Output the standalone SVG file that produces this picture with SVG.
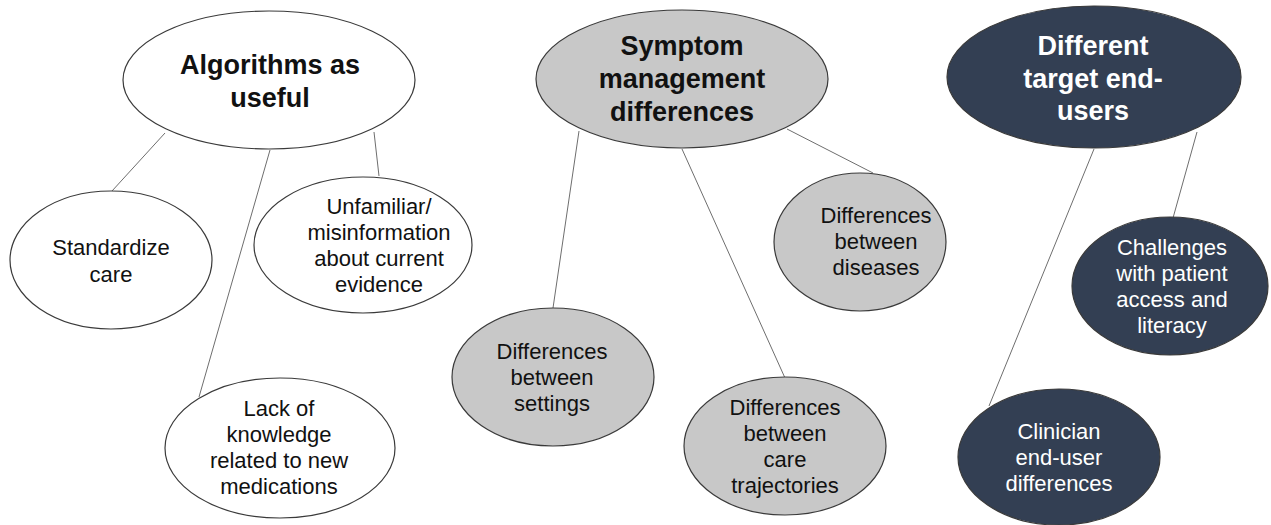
<svg xmlns="http://www.w3.org/2000/svg" width="1271" height="525" viewBox="0 0 1271 525">
<style>
.bg{fill:#ffffff}
.node{stroke:#3a3a3a;stroke-width:1.2}
.white{fill:#ffffff}
.gray{fill:#c8c8c8}
.dark{fill:#333f53}
.conn line{stroke:#6e6e6e;stroke-width:1}
text{font-family:"Liberation Sans",Arial,sans-serif;text-anchor:middle}
.title{font-size:27px;font-weight:bold}
.label{font-size:22px}
.tdark{fill:#111111}
.tlight{fill:#ffffff}
</style>
<rect class="bg" x="0" y="0" width="1271" height="525"/>
<g id="connectors" class="conn">
<line x1="165" y1="133" x2="112" y2="191"/>
<line x1="270" y1="150" x2="199" y2="397"/>
<line x1="374" y1="132" x2="379" y2="176"/>
<line x1="579" y1="131" x2="553" y2="308"/>
<line x1="682" y1="149" x2="785" y2="378"/>
<line x1="787" y1="129" x2="873" y2="173"/>
<line x1="1094" y1="149" x2="989" y2="406"/>
<line x1="1197" y1="132" x2="1173" y2="218"/>
</g>
<g id="algorithms">
<ellipse class="node white" cx="269" cy="80" rx="146" ry="69"/>
<text class="title tdark" x="270" y="74">Algorithms as</text>
<text class="title tdark" x="270" y="107">useful</text>
</g>
<g id="standardize">
<ellipse class="node white" cx="111" cy="260" rx="101" ry="69"/>
<text class="label tdark" x="111" y="255">Standardize</text>
<text class="label tdark" x="111" y="282">care</text>
</g>
<g id="unfamiliar">
<ellipse class="node white" cx="363" cy="245" rx="109" ry="68"/>
<text class="label tdark" x="379" y="214">Unfamiliar/</text>
<text class="label tdark" x="379" y="240">misinformation</text>
<text class="label tdark" x="379" y="266">about current</text>
<text class="label tdark" x="379" y="292">evidence</text>
</g>
<g id="lack">
<ellipse class="node white" cx="280" cy="448" rx="115" ry="70"/>
<text class="label tdark" x="279" y="416">Lack of</text>
<text class="label tdark" x="279" y="442">knowledge</text>
<text class="label tdark" x="279" y="468">related to new</text>
<text class="label tdark" x="279" y="494">medications</text>
</g>
<g id="symptom">
<ellipse class="node gray" cx="682" cy="79" rx="146" ry="69"/>
<text class="title tdark" x="682" y="55">Symptom</text>
<text class="title tdark" x="682" y="88">management</text>
<text class="title tdark" x="682" y="121">differences</text>
</g>
<g id="diseases">
<ellipse class="node gray" cx="860" cy="242" rx="86" ry="69"/>
<text class="label tdark" x="876" y="223">Differences</text>
<text class="label tdark" x="876" y="249">between</text>
<text class="label tdark" x="876" y="275">diseases</text>
</g>
<g id="settings">
<ellipse class="node gray" cx="553" cy="377" rx="101" ry="69"/>
<text class="label tdark" x="552" y="359">Differences</text>
<text class="label tdark" x="552" y="385">between</text>
<text class="label tdark" x="552" y="411">settings</text>
</g>
<g id="trajectories">
<ellipse class="node gray" cx="785" cy="446" rx="101" ry="69"/>
<text class="label tdark" x="785" y="415">Differences</text>
<text class="label tdark" x="785" y="441">between</text>
<text class="label tdark" x="785" y="467">care</text>
<text class="label tdark" x="785" y="493">trajectories</text>
</g>
<g id="endusers">
<ellipse class="node dark" cx="1094" cy="77" rx="147" ry="71"/>
<text class="title tlight" x="1093" y="55">Different</text>
<text class="title tlight" x="1093" y="88">target end-</text>
<text class="title tlight" x="1093" y="120">users</text>
</g>
<g id="challenges">
<ellipse class="node dark" cx="1170" cy="286" rx="98" ry="69"/>
<text class="label tlight" x="1172" y="255">Challenges</text>
<text class="label tlight" x="1172" y="281">with patient</text>
<text class="label tlight" x="1172" y="307">access and</text>
<text class="label tlight" x="1172" y="333">literacy</text>
</g>
<g id="clinician">
<ellipse class="node dark" cx="1059" cy="457" rx="101" ry="68"/>
<text class="label tlight" x="1059" y="439">Clinician</text>
<text class="label tlight" x="1059" y="465">end-user</text>
<text class="label tlight" x="1059" y="491">differences</text>
</g>
</svg>
